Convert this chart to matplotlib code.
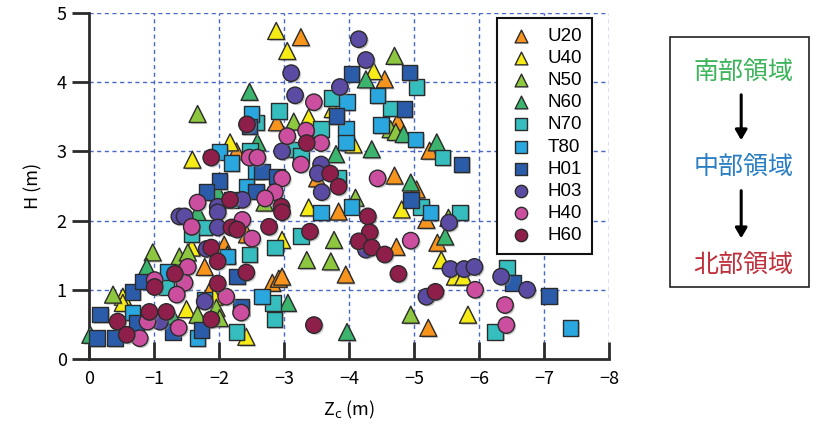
import matplotlib
matplotlib.use("Agg")
import matplotlib.pyplot as plt
from matplotlib.patches import Rectangle, FancyArrowPatch
import matplotlib.patheffects as pe

plt.rcParams['font.family'] = ['Noto Sans CJK JP', 'DejaVu Sans']

# ---- data: Z_c (m) and H (m) for each survey group ----
u20_z = [-3.26, -4.55, -2.89, -4.75, -5.24, -4.70, -3.51, -2.27, -2.08, -2.43, -1.78,
         -1.85, -2.82, -2.92, -3.84, -5.04, -4.73, -5.36, -3.95, -5.22, -5.19, -2.97]
u20_h = [4.65, 4.04, 3.42, 3.43, 3.01, 2.65, 2.61, 3.00, 1.65, 1.80, 1.33,
         0.97, 1.10, 1.16, 2.13, 2.45, 1.62, 1.68, 1.22, 0.45, 2.01, 1.19]

u40_z = [-2.88, -3.05, -4.38, -3.38, -3.75, -4.07, -2.17, -1.59, -1.58, -0.52, -0.52,
         -1.50, -2.42, -3.38, -2.97, -4.81, -5.42, -5.63, -5.76, -5.83, -1.93]
u40_h = [4.74, 4.45, 4.16, 3.49, 3.61, 3.10, 3.13, 2.88, 1.61, 0.90, 0.81,
         0.72, 0.32, 2.19, 1.72, 2.16, 1.43, 1.19, 1.19, 0.64, 0.90]

n50_z = [-1.67, -4.70, -3.15, -4.64, -4.72, -0.98, -1.39, -1.52, -0.37, -1.96,
         -2.01, -1.67, -4.10, -3.77, -3.35, -3.72, -4.95, -5.53, -2.70]
n50_h = [3.54, 4.38, 3.43, 3.32, 3.28, 1.54, 1.48, 1.54, 0.93, 0.74,
         0.59, 0.64, 2.33, 1.72, 1.43, 1.41, 0.64, 2.04, 2.26]

n60_z = [-2.47, -2.59, -4.26, -3.80, -4.35, -4.95, -4.84, -5.35, -5.48, -3.06,
         -3.97, -0.89, -1.67, -0.02, -1.29, -1.98, -2.13]
n60_h = [3.86, 3.13, 4.04, 2.96, 3.03, 2.55, 3.25, 3.13, 1.77, 0.81,
         0.39, 1.33, 2.12, 0.35, 0.61, 2.41, 1.51]

n70_z = [-5.04, -2.92, -3.74, -4.64, -3.57, -3.15, -3.26, -5.44, -3.84, -2.57,
         -5.11, -5.71, -3.26, -2.86, -2.83, -2.85, -6.25, -6.43, -1.78, -1.58,
         -2.19, -2.47, -1.19, -2.27, -2.48]
n70_h = [3.93, 3.58, 3.77, 3.62, 3.32, 3.03, 2.94, 2.91, 2.62, 3.42,
         2.20, 2.12, 1.78, 1.61, 0.81, 0.57, 0.39, 1.32, 1.90, 1.80,
         2.30, 1.51, 1.04, 0.39, 3.01]

t80_z = [-2.50, -2.01, -2.19, -2.57, -2.42, -3.97, -4.44, -4.49, -3.95, -3.95,
         -5.02, -3.57, -4.04, -5.25, -7.41, -2.66, -2.13, -1.78, -1.67, -0.67, -1.21]
t80_h = [3.54, 2.99, 2.83, 2.71, 2.49, 3.71, 3.81, 3.38, 3.32, 3.13,
         3.17, 2.12, 2.20, 2.12, 0.45, 0.90, 1.48, 0.86, 0.30, 0.67, 1.26]

h01_z = [-4.04, -4.93, -4.85, -3.81, -5.73, -2.47, -2.66, -2.01, -4.95, -6.52,
         -7.08, -1.81, -0.67, -0.17, -0.12, -0.40, -2.28, -1.73, -1.29, -0.73,
         -0.83, -2.57, -2.89, -2.34]
h01_h = [4.12, 4.14, 3.61, 3.51, 2.81, 3.36, 2.71, 2.57, 2.30, 1.10,
         0.91, 2.41, 0.97, 0.64, 0.30, 0.30, 1.19, 0.42, 0.39, 0.52,
         1.12, 2.42, 2.64, 0.75]

h03_z = [-4.15, -4.26, -3.11, -3.17, -3.86, -2.97, -3.57, -3.52, -3.58, -4.26,
         -5.54, -5.56, -5.77, -5.93, -5.19, -6.34, -6.74, -1.98, -1.98, -2.36,
         -1.39, -1.47, -1.98, -1.81, -1.78, -1.09]
h03_h = [4.62, 4.32, 4.13, 3.81, 3.93, 3.00, 2.81, 2.68, 2.41, 1.58,
         1.97, 1.30, 1.30, 1.33, 0.90, 1.19, 1.00, 2.20, 2.12, 2.30,
         2.06, 2.06, 1.90, 1.59, 0.83, 0.54]

h40_z = [-2.47, -2.59, -3.46, -3.34, -3.05, -3.57, -3.26, -2.97, -4.44, -2.86,
         -4.95, -5.94, -6.40, -6.42, -1.67, -1.58, -2.36, -2.51, -2.71, -1.52,
         -1.01, -1.47, -1.35, -2.11, -2.34, -0.90, -0.78, -1.38]
h40_h = [2.91, 2.91, 3.71, 3.30, 3.22, 3.12, 2.81, 2.61, 2.61, 2.41,
         1.71, 1.00, 0.78, 0.49, 2.26, 1.91, 2.01, 1.74, 2.32, 1.33,
         1.14, 1.10, 0.93, 0.90, 0.67, 0.54, 0.30, 0.45]

h60_z = [-2.43, -1.88, -3.35, -3.71, -3.84, -2.96, -2.97, -4.29, -3.40, -4.32,
         -4.15, -4.35, -4.55, -4.76, -5.33, -3.46, -2.17, -2.19, -2.28, -2.77,
         -1.88, -1.98, -2.42, -1.32, -1.01, -1.98, -0.93, -1.19, -0.44, -1.88, -0.58]
h60_h = [3.39, 2.91, 3.12, 2.68, 2.49, 2.20, 2.12, 2.06, 1.84, 1.83,
         1.70, 1.61, 1.51, 1.23, 0.97, 0.49, 2.30, 1.90, 1.87, 1.91,
         1.61, 1.41, 1.25, 1.23, 1.04, 1.09, 0.68, 0.68, 0.54, 0.57, 0.35]

series_names = ["U20", "U40", "N50", "N60", "N70", "T80", "H01", "H03", "H40", "H60"]
series_z = [u20_z, u40_z, n50_z, n60_z, n70_z, t80_z, h01_z, h03_z, h40_z, h60_z]
series_h = [u20_h, u40_h, n50_h, n60_h, n70_h, t80_h, h01_h, h03_h, h40_h, h60_h]
series_marker = ["^", "^", "^", "^", "s", "s", "s", "o", "o", "o"]
series_color = ["#F7941D", "#F6EB16", "#8DC63F", "#3DB46D", "#36BEBF",
                "#2AA7DF", "#2A5CAA", "#5B4BA2", "#CB4E9F", "#8E1E4A"]

x_ticks = [0, -1, -2, -3, -4, -5, -6, -7, -8]
y_ticks = [0, 1, 2, 3, 4, 5]

fig = plt.figure(figsize=(8.19, 4.32), dpi=100)
ax = fig.add_axes([0.1087, 0.169, 0.6349, 0.801])

shadow = [pe.SimplePatchShadow(offset=(1.2, -1.2), shadow_rgbFace="#888888", alpha=0.45),
          pe.Normal()]

for name, zs, hs, mk, col in zip(series_names, series_z, series_h,
                                  series_marker, series_color):
    size = 150 if mk == "^" else (125 if mk == "s" else 140)
    sc = ax.scatter(zs, hs, marker=mk, s=size, c=col, edgecolors="#2b2b2b",
                    linewidths=1.0, label=name, clip_on=False, zorder=3)
    sc.set_path_effects(shadow)

ax.set_xlim(0, -8)
ax.set_ylim(0, 5)
ax.set_xticks(x_ticks)
ax.set_yticks(y_ticks)
ax.set_xticklabels([f"{t}".replace("-", "\u2212") for t in x_ticks])
ax.set_yticklabels([str(t) for t in y_ticks])

# dashed blue grid; top and right edges are grid lines, not spines
for xv in x_ticks[1:]:
    ax.axvline(xv, color="#4a68c8", lw=1.0, ls=(0, (3, 2.5)), zorder=1)
for yv in y_ticks[1:]:
    ax.axhline(yv, color="#4a68c8", lw=1.0, ls=(0, (3, 2.5)), zorder=1)

ax.spines["top"].set_visible(False)
ax.spines["right"].set_visible(False)
for s in ("left", "bottom"):
    ax.spines[s].set_linewidth(2.0)
    ax.spines[s].set_color("#2b2b2b")

ax.tick_params(axis="x", direction="in", length=12, width=2, color="#2b2b2b",
               labelsize=13, pad=8)
ax.tick_params(axis="y", direction="out", length=12, width=2, color="#2b2b2b",
               labelsize=13, pad=4)

ax.set_xlabel("Z$_{\\mathrm{c}}$ (m)", fontsize=13, labelpad=8)
ax.set_ylabel("H (m)", fontsize=13, labelpad=10)

leg = ax.legend(loc="upper right", bbox_to_anchor=(0.967, 0.985), borderaxespad=0,
                frameon=True, fancybox=False, edgecolor="#111111",
                prop={"family": "Liberation Sans", "size": 13.5},
                labelspacing=0.27, handletextpad=0.7, borderpad=0.5,
                handlelength=1.5, scatterpoints=1, markerscale=0.75)
leg.get_frame().set_linewidth(1.5)
leg.get_frame().set_alpha(1)
for h in leg.legend_handles:
    h.set_path_effects([])

# region flow box on the right
fig.add_artist(Rectangle((0.818, 0.336), 0.170, 0.578, transform=fig.transFigure,
                         fill=False, edgecolor="#222222", lw=1.2))
fig.text(0.908, 0.833, "南部領域", color="#3CB45A", fontsize=18,
         ha="center", va="center")
fig.text(0.908, 0.613, "中部領域", color="#2A7EC4", fontsize=18,
         ha="center", va="center")
fig.text(0.908, 0.387, "北部領域", color="#C0303C", fontsize=18,
         ha="center", va="center")
for y0, y1 in [(0.787, 0.669), (0.565, 0.442)]:
    fig.add_artist(FancyArrowPatch((0.905, y0), (0.905, y1),
                                   transform=fig.transFigure,
                                   arrowstyle="-|>,head_length=6,head_width=3.5",
                                   color="black", lw=2.2))

fig.savefig("out.png", dpi=100)
